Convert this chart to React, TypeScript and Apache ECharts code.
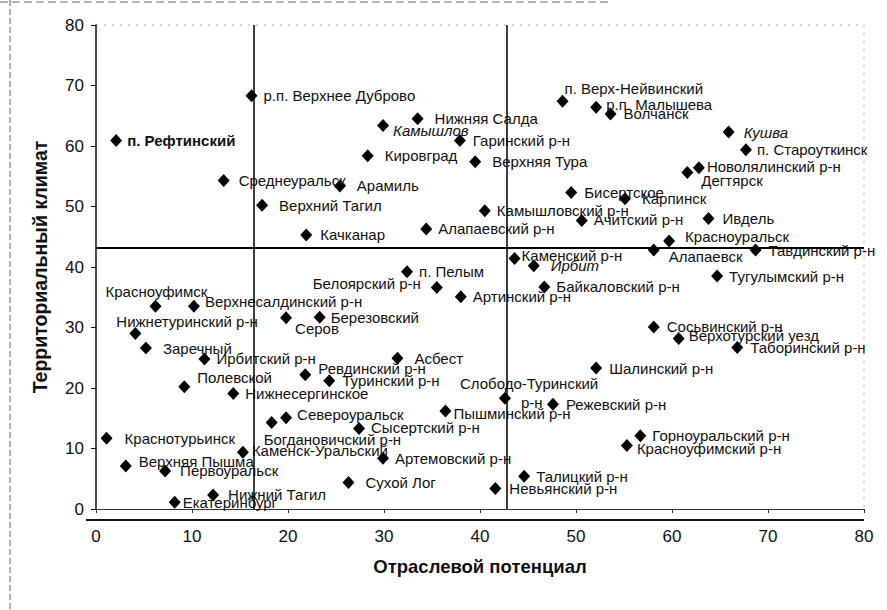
import React, { useEffect, useRef } from "react";
import * as echarts from "echarts";

// ---- Data ----
const names: string[] = [
  "п. Рефтинский", "р.п. Верхнее Дуброво", "Среднеуральск", "Арамиль", "Верхний Тагил",
  "Качканар", "Нижняя Салда", "Камышлов", "Гаринский р-н", "Кировград",
  "Верхняя Тура", "Камышловский р-н", "Алапаевский р-н", "п. Верх-Нейвинский", "р.п. Малышева",
  "Волчанск", "Бисертское", "Ачитский р-н", "Карпинск", "Кушва",
  "п. Староуткинск", "Новолялинский р-н", "Дегтярск", "Ивдель", "Красноуральск",
  "Алапаевск", "Тавдинский р-н", "Тугулымский р-н", "Красноуфимск", "Верхнесалдинский р-н",
  "Нижнетуринский р-н", "Заречный", "Ирбитский р-н", "Полевской", "Нижнесергинское",
  "Серов", "Березовский", "Ревдинский р-н", "Туринский р-н", "Белоярский р-н",
  "п. Пелым", "Артинский р-н", "Каменский р-н", "Ирбит", "Байкаловский р-н",
  "Асбест", "Слободо-Туринский р-н", "Пышминский р-н", "Режевский р-н", "Шалинский р-н",
  "Сосьвинский р-н", "Верхотурский уезд", "Таборинский р-н", "Горноуральский р-н", "Красноуфимский р-н",
  "Североуральск", "Богдановичский р-н", "Сысертский р-н", "Краснотурьинск", "Каменск-Уральский",
  "Артемовский р-н", "Верхняя Пышма", "Первоуральск", "Сухой Лог", "Нижний Тагил",
  "Екатеринбург", "Талицкий р-н", "Невьянский р-н",
];

const potential: number[] = [
  2.1, 16.2, 13.3, 25.4, 17.3,
  21.9, 33.5, 29.9, 37.9, 28.3,
  39.5, 40.5, 34.4, 48.6, 52.1,
  53.6, 49.5, 50.6, 55.1, 65.9,
  67.7, 62.8, 61.6, 63.8, 59.7,
  58.1, 68.7, 64.7, 6.2, 10.2,
  4.1, 5.2, 11.3, 9.2, 14.3,
  19.8, 23.3, 21.8, 24.3, 35.5,
  32.4, 38.0, 43.6, 45.6, 46.7,
  31.4, 42.6, 36.4, 47.6, 52.1,
  58.1, 60.7, 66.8, 56.7, 55.3,
  19.8, 18.3, 27.4, 1.1, 15.3,
  29.9, 3.1, 7.2, 26.3, 12.2,
  8.2, 44.6, 41.6,
];

const climate: number[] = [
  60.9, 68.3, 54.3, 53.4, 50.2,
  45.3, 64.5, 63.4, 60.9, 58.4,
  57.4, 49.3, 46.3, 67.4, 66.4,
  65.3, 52.3, 47.7, 51.3, 62.3,
  59.4, 56.4, 55.6, 48.0, 44.3,
  42.8, 42.8, 38.5, 33.5, 33.5,
  29.0, 26.6, 24.8, 20.2, 19.1,
  31.6, 31.7, 22.2, 21.2, 36.6,
  39.2, 35.1, 41.4, 40.2, 36.7,
  24.9, 18.3, 16.2, 17.3, 23.3,
  30.1, 28.2, 26.7, 12.1, 10.5,
  15.1, 14.3, 13.3, 11.7, 9.4,
  8.4, 7.1, 6.3, 4.4, 2.3,
  1.1, 5.4, 3.4,
];

const meanPotential: number[] = [16.4, 42.8];
const meanClimate = 43.1;
const axisMin = 0;
const axisMax = 80;
const axisStep = 10;

const xAxisTitle = "Отраслевой потенциал";
const yAxisTitle = "Территориальный климат";

// ---- Label layout (placement tweaks, not data) ----
type Tweak = { dx?: number; dy?: number; pos?: string; weight?: string; italic?: boolean; rich?: string };
const labelTweaks: Record<string, Tweak> = {
  "п. Рефтинский": { dx: -2, weight: "bold" },
  "р.п. Верхнее Дуброво": { dx: -1 },
  "Среднеуральск": { dx: 2 },
  "Арамиль": { dx: 4 },
  "Верхний Тагил": { dx: 4 },
  "Качканар": { dx: 1 },
  "Нижняя Салда": { dx: 4 },
  "Камышлов": { dx: -3, dy: 5, italic: true },
  "Кировград": { dx: 4 },
  "Верхняя Тура": { dx: 4 },
  "Камышловский р-н": { dx: -1 },
  "Алапаевский р-н": { dx: -1 },
  "п. Верх-Нейвинский": { dx: -11, dy: -13 },
  "р.п. Малышева": { dx: -3, dy: -3 },
  "Ачитский р-н": { dx: -1, dy: -1 },
  "Карпинск": { dx: 4 },
  "Кушва": { dx: 2, italic: true },
  "п. Староуткинск": { dx: -2 },
  "Новолялинский р-н": { dx: -5, dy: -1 },
  "Дегтярск": { dx: 1, dy: 8 },
  "Ивдель": { dx: 1 },
  "Красноуральск": { dx: 3, dy: -4 },
  "Алапаевск": { dx: 2, dy: 6 },
  "Тугулымский р-н": { dx: -1 },
  "Красноуфимск": { dx: -63, dy: -15 },
  "Верхнесалдинский р-н": { dx: -2, dy: -5 },
  "Нижнетуринский р-н": { dx: -32, dy: -12 },
  "Заречный": { dx: 4 },
  "Ирбитский р-н": { dx: -1 },
  "Полевской": { dx: 0, dy: -9 },
  "Нижнесергинское": { dx: -1 },
  "Серов": { dx: -4, dy: 11 },
  "Березовский": { dx: -2 },
  "Ревдинский р-н": { dy: -6 },
  "Белоярский р-н": { pos: "left", dx: -3, dy: -4 },
  "п. Пелым": { dx: -1 },
  "Артинский р-н": { dx: -1 },
  "Каменский р-н": { dx: -6, dy: -3 },
  "Ирбит": { dx: 4, italic: true },
  "Байкаловский р-н": { dx: -1 },
  "Асбест": { dx: 4 },
  "Слободо-Туринский р-н": { dx: -58, dy: -5, rich: "{a|Слободо-Туринский}\n{b|р-н}" },
  "Пышминский р-н": { dx: -5, dy: 3 },
  "Верхотурский уезд": { dx: -3, dy: -3 },
  "Горноуральский р-н": { dx: -1 },
  "Красноуфимский р-н": { dx: -3, dy: 3 },
  "Североуральск": { dx: -2, dy: -3 },
  "Богдановичский р-н": { dx: -21, dy: 17 },
  "Сысертский р-н": { dx: -1, dy: -1 },
  "Краснотурьинск": { dx: 5 },
  "Каменск-Уральский": { dx: -4, dy: -2 },
  "Артемовский р-н": { dx: -1 },
  "Верхняя Пышма": { dy: -5 },
  "Первоуральск": { dx: 2 },
  "Сухой Лог": { dx: 4 },
  "Нижний Тагил": { dx: 2, dy: -1 },
  "Екатеринбург": { dx: -5 },
  "Талицкий р-н": { dx: -1 },
  "Невьянский р-н": { dx: 1 },
};

const FONT = "'Liberation Sans', Arial, sans-serif";

export default function App() {
  const ref = useRef<HTMLDivElement>(null);
  useEffect(() => {
    document.body.style.margin = "0";
    if (!ref.current) return;
    const chart = echarts.init(ref.current, undefined, { renderer: "svg" });

    const points = names.map((name, i) => {
      const t = labelTweaks[name] || {};
      const pos = t.pos || "right";
      const label: any = {
        position: pos,
        fontWeight: t.weight || "normal",
        fontStyle: t.italic ? "italic" : "normal",
        formatter: t.rich ? t.rich : "{b}",
      };
      if (t.rich) {
        label.lineHeight = 19;
        label.rich = {
          a: { fontFamily: FONT, fontSize: 15, color: "#111", lineHeight: 19 },
          b: { fontFamily: FONT, fontSize: 15, color: "#111", lineHeight: 19, padding: [0, 0, 0, 61] },
        };
      }
      return { name, value: [potential[i], climate[i]], label };
    });

    chart.setOption({
      animation: false,
      backgroundColor: "#ffffff",
      textStyle: { fontFamily: FONT },
      grid: { left: 96, right: 23, top: 25, bottom: 101, containLabel: false },
      xAxis: {
        type: "value",
        min: axisMin,
        max: axisMax,
        interval: axisStep,
        name: xAxisTitle,
        nameLocation: "middle",
        nameGap: 48,
        nameTextStyle: { fontFamily: FONT, fontSize: 18.5, fontWeight: "bold", color: "#111" },
        axisLine: { show: true, lineStyle: { color: "#333", width: 1 } },
        axisTick: { show: true, inside: false, length: 4, lineStyle: { color: "#333" } },
        axisLabel: { fontFamily: FONT, fontSize: 17, color: "#111", margin: 19 },
        splitLine: { show: false },
      },
      yAxis: {
        type: "value",
        min: axisMin,
        max: axisMax,
        interval: axisStep,
        name: yAxisTitle,
        nameLocation: "middle",
        nameGap: 46,
        nameRotate: 90,
        nameTextStyle: { fontFamily: FONT, fontSize: 19.5, fontWeight: "bold", color: "#111" },
        axisLine: { show: true, lineStyle: { color: "#111", width: 1.5 } },
        axisTick: { show: true, inside: false, length: 5, lineStyle: { color: "#111" } },
        axisLabel: { fontFamily: FONT, fontSize: 17, color: "#111", margin: 12 },
        splitLine: { show: false },
      },
      graphic: [
        { type: "line", shape: { x1: 86, y1: 520, x2: 864, y2: 520 }, style: { stroke: "#111", lineWidth: 2 } },
        { type: "line", shape: { x1: 96, y1: 25, x2: 864, y2: 25 }, style: { stroke: "#aaa", lineWidth: 1, lineDash: [2, 6] } },
        { type: "line", shape: { x1: 864, y1: 25, x2: 864, y2: 509 }, style: { stroke: "#aaa", lineWidth: 1, lineDash: [2, 6] } },
        { type: "line", shape: { x1: 10, y1: 0, x2: 10, y2: 610 }, style: { stroke: "#666", lineWidth: 1, lineDash: [6, 3] } },
        { type: "line", shape: { x1: 0, y1: 2, x2: 610, y2: 2 }, style: { stroke: "#666", lineWidth: 1, lineDash: [8, 4] } },
      ],
      series: [
        {
          type: "scatter",
          symbol: "diamond",
          symbolSize: [12, 13],
          itemStyle: { color: "#000", opacity: 1 },
          label: {
            show: true,
            distance: 7,
            fontFamily: FONT,
            fontSize: 15,
            color: "#111",
          },
          labelLayout: (params: any) => {
            const t = labelTweaks[names[params.dataIndex]] || {};
            return { dx: t.dx || 0, dy: t.dy || 0, hideOverlap: false };
          },
          data: points,
          markLine: {
            silent: true,
            symbol: "none",
            label: { show: false },
            lineStyle: { color: "#000", type: "solid", width: 1.5 },
            data: [
              ...meanPotential.map((v) => [
                { coord: [v, axisMin] },
                { coord: [v, axisMax] },
              ]),
              [
                { coord: [axisMin, meanClimate], lineStyle: { width: 2 } },
                { coord: [axisMax, meanClimate] },
              ],
            ],
          },
        },
      ],
    });
    return () => chart.dispose();
  }, []);
  return <div ref={ref} style={{ width: 887, height: 610 }} />;
}
